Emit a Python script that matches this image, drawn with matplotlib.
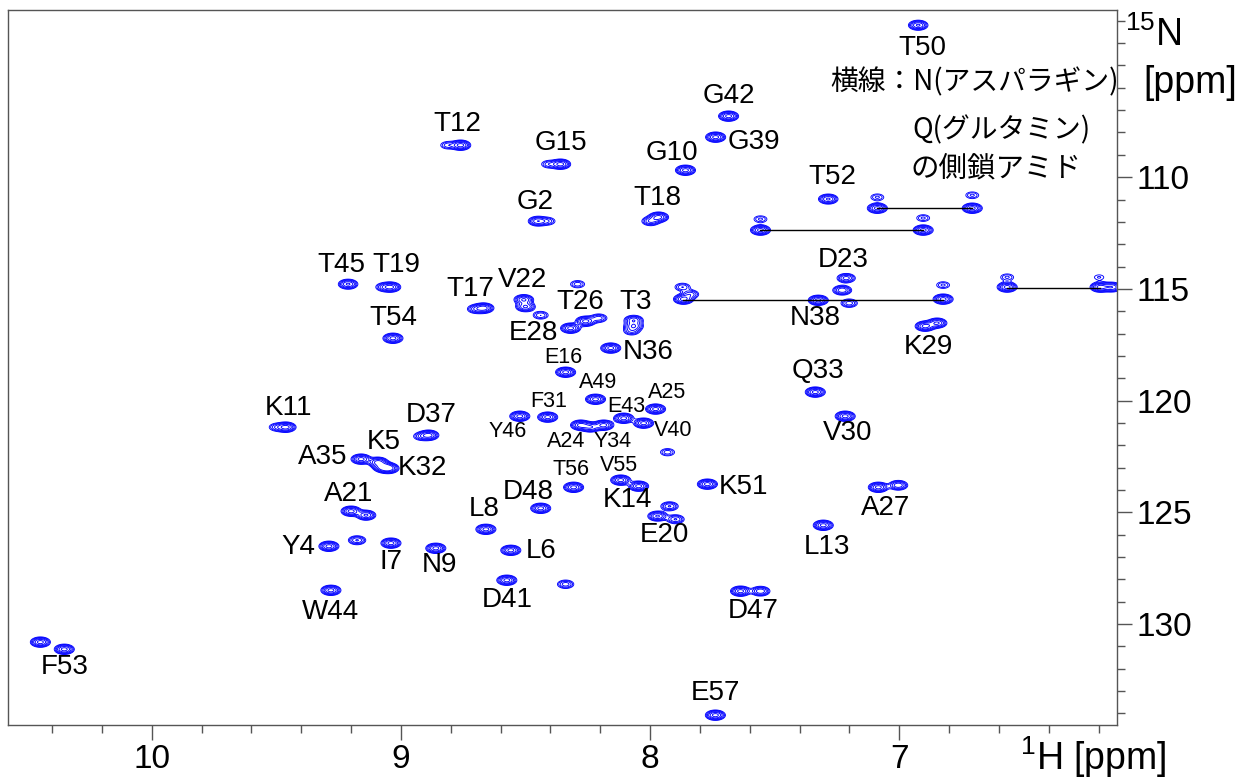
import numpy as np
import matplotlib
matplotlib.use("Agg")
import matplotlib.pyplot as plt
from matplotlib.ticker import MultipleLocator, FixedLocator

plt.rcParams['font.family'] = ['Liberation Sans', 'DejaVu Sans']
plt.rcParams['mathtext.fontset'] = 'custom'
plt.rcParams['mathtext.rm'] = 'Liberation Sans'
plt.rcParams['mathtext.it'] = 'Liberation Sans'

# cross peaks: 1H shift, 15N shift, relative height
peak_h = [8.760, 8.812, 8.359, 8.407, 8.451, 8.410, 7.966, 7.998, 7.858, 7.685,
          7.737, 6.924, 7.285, 9.212, 9.040, 9.070, 9.032, 9.461, 9.500, 9.160,
          9.092, 9.072, 9.048, 8.888, 8.920, 8.667, 8.700, 8.507, 8.500, 8.291,
          8.439, 8.319, 8.259, 8.206, 8.066, 8.066, 8.074, 8.158, 8.339, 8.219,
          7.978, 8.523, 8.411, 8.279, 8.239, 8.186, 8.106, 8.026, 7.930, 8.118,
          8.046, 8.307, 8.439, 7.770, 7.922, 7.213, 7.229, 7.201, 7.325, 6.896,
          6.848, 7.337, 7.217, 7.084, 7.004, 9.200, 9.140, 9.289, 9.176, 9.040,
          9.281, 10.447, 10.351, 8.659, 7.970, 7.898, 8.860, 8.559, 8.575, 8.339,
          7.637, 7.557, 7.738, 7.305,
          # side-chain NH2
          7.557, 7.557, 6.904, 6.904, 7.088, 7.088, 6.707, 6.707, 7.866, 7.870,
          7.838, 6.824, 6.824, 6.567, 6.567, 6.194, 6.198, 6.146]
peak_n = [108.57, 108.57, 109.42, 109.42, 111.97, 111.97, 111.79, 111.97, 109.69, 107.27,
          108.21, 103.20, 110.98, 114.79, 114.92, 114.92, 117.21, 121.19, 121.19, 122.62,
          122.76, 122.98, 123.03, 121.55, 121.60, 115.86, 115.90, 115.48, 115.80, 114.79,
          116.18, 116.76, 116.45, 116.31, 116.40, 116.67, 116.89, 117.65, 118.73, 119.94,
          120.38, 120.70, 120.74, 121.10, 121.19, 121.10, 120.79, 121.01, 122.31, 123.56,
          123.83, 123.88, 124.82, 123.74, 124.73, 114.52, 115.06, 115.64, 115.51, 116.67,
          116.53, 119.62, 120.70, 123.88, 123.79, 124.95, 125.13, 126.52, 126.25, 126.38,
          128.49, 130.81, 131.13, 125.76, 125.17, 125.31, 126.61, 126.70, 128.04, 128.22,
          128.53, 128.53, 134.08, 125.58,
          112.37, 111.88, 112.37, 111.83, 111.39, 110.90, 111.39, 110.81, 115.46, 114.92,
          115.24, 115.46, 114.83, 114.92, 114.48, 114.92, 114.48, 114.92]
peak_amp = [1.0, 0.35, 1.0, 0.35, 0.8, 0.35, 1.0, 0.6, 1.0, 1.0,
            1.0, 0.9, 0.9, 0.9, 0.9, 0.4, 1.0, 1.0, 0.35, 1.0,
            1.0, 1.0, 1.0, 1.0, 0.35, 1.0, 0.5, 0.9, 0.9, 0.35,
            0.4, 1.0, 1.0, 0.5, 0.8, 0.8, 0.4, 1.0, 1.0, 1.0,
            1.0, 1.0, 1.0, 1.0, 0.8, 1.0, 1.0, 1.0, 0.35, 1.0,
            1.0, 1.0, 1.0, 1.0, 0.6, 0.7, 0.8, 0.5, 1.0, 1.0,
            0.9, 1.0, 1.0, 1.0, 0.8, 1.0, 0.9, 1.0, 0.6, 1.0,
            1.0, 1.0, 1.0, 1.0, 0.9, 0.6, 1.0, 1.0, 1.0, 0.5,
            1.0, 0.8, 1.0, 1.0,
            1.0, 0.3, 1.0, 0.3, 1.0, 0.3, 1.0, 0.3, 1.0, 0.4,
            0.5, 1.0, 0.3, 1.0, 0.3, 1.0, 0.2, 0.8]

# NH2 pairs joined by a line: 1H start, 1H end, 15N
pair_h1 = [7.088, 7.557, 7.866, 6.567]
pair_h2 = [6.707, 6.904, 6.824, 6.194]
pair_n = [111.39, 112.37, 115.48, 114.95]

# assignments
label_text = ['T12', 'G15', 'G2', 'T18', 'G10', 'G42', 'G39', 'T50', 'T52', 'T45',
              'T19', 'T54', 'K11', 'A35', 'K5', 'K32', 'D37', 'T17', 'V22', 'T26',
              'E28', 'T3', 'N36', 'E16', 'A49', 'F31', 'Y46', 'A24', 'Y34', 'E43',
              'V40', 'A25', 'V55', 'T56', 'D48', 'K14', 'K51', 'E20', 'L8', 'N9',
              'L6', 'D41', 'D47', 'E57', 'L13', 'A27', 'V30', 'Q33', 'K29', 'N38',
              'D23', 'A21', 'Y4', 'I7', 'W44', 'F53']
label_h = [8.772, 8.359, 8.463, 7.970, 7.914, 7.685, 7.585, 6.908, 7.269, 9.240,
           9.020, 9.032, 9.453, 9.313, 9.068, 8.912, 8.880, 8.720, 8.511, 8.279,
           8.467, 8.058, 8.006, 8.347, 8.210, 8.407, 8.571, 8.335, 8.150, 8.094,
           7.906, 7.930, 8.126, 8.319, 8.487, 8.090, 7.625, 7.942, 8.667, 8.844,
           8.439, 8.575, 7.585, 7.738, 7.289, 7.055, 7.208, 7.325, 6.883, 7.337,
           7.225, 9.208, 9.412, 9.040, 9.281, 10.351]
label_n = [107.63, 108.48, 111.12, 110.94, 108.93, 106.37, 108.43, 104.23, 110.00, 113.94,
           113.94, 116.31, 120.34, 122.53, 121.86, 123.03, 120.65, 115.01, 114.61, 115.59,
           116.98, 115.59, 117.83, 118.06, 119.18, 120.03, 121.37, 121.82, 121.82, 120.25,
           121.33, 119.62, 122.89, 123.07, 124.10, 124.46, 123.88, 126.03, 124.86, 127.37,
           126.74, 128.93, 129.43, 133.10, 126.56, 124.82, 121.46, 118.68, 117.61, 116.31,
           113.72, 124.19, 126.56, 127.23, 129.47, 131.93]
small_labels = {'E16', 'A49', 'F31', 'Y46', 'A24', 'Y34', 'E43', 'V40', 'A25', 'V55', 'T56'}

note_lines = ['横線：N(アスパラギン)', 'Q(グルタミン)', 'の側鎖アミド']

fig = plt.figure(figsize=(12.46, 7.78), dpi=100)
ax = fig.add_axes([0.0064, 0.0681, 0.8901, 0.919])

# build the spectrum as a sum of gaussian peaks
gh = np.linspace(6.05, 10.65, 1840)
gn = np.linspace(102.3, 134.8, 1000)
ph = np.array(peak_h)[:, None]
pn = np.array(peak_n)[:, None]
amp = np.array(peak_amp)[:, None]
GX = np.exp(-0.5 * ((gh[None, :] - ph) / 0.020) ** 2)
GY = np.exp(-0.5 * ((gn[None, :] - pn) / 0.115) ** 2)
Z = GY.T @ (amp * GX)
levels = 0.13 * 1.45 ** np.arange(6)
ax.contour(gh, gn, Z, levels=levels, colors='#0000ff', linewidths=0.65)

for h1, h2, n in zip(pair_h1, pair_h2, pair_n):
    ax.plot([h1, h2], [n, n], color='black', lw=1.0)

for t, h, n in zip(label_text, label_h, label_n):
    fs = 15.5 if t in small_labels else 20
    ax.text(h, n, t, fontsize=fs, ha='center', va='center')

jp = ['Noto Sans CJK JP', 'Liberation Sans']
ax.text(7.277, 105.75, note_lines[0], fontsize=20, family=jp, ha='left', va='center')
ax.text(6.948, 107.90, note_lines[1], fontsize=20, family=jp, ha='left', va='center')
ax.text(6.956, 109.60, note_lines[2], fontsize=20.5, family=jp, ha='left', va='center')

ax.set_xlim(10.577, 6.126)
ax.set_ylim(134.52, 102.52)

ax.xaxis.set_major_locator(FixedLocator([7, 8, 9, 10]))
ax.xaxis.set_minor_locator(MultipleLocator(0.2))
ax.yaxis.set_major_locator(FixedLocator([110, 115, 120, 125, 130]))
ax.yaxis.set_minor_locator(MultipleLocator(1))
ax.yaxis.tick_right()
ax.tick_params(which='major', length=11, width=1, color='#555555', labelsize=24, pad=3)
ax.tick_params(which='minor', length=6, width=1, color='#555555')
ax.tick_params(axis='y', which='both', left=False, right=True)
for s in ax.spines.values():
    s.set_color('#555555')
    s.set_linewidth(1.0)

fig.text(1125 / 1246, 1 - 35 / 778, r'$^{15}$N', fontsize=27, ha='left', va='center')
fig.text(1190 / 1246, 1 - 83 / 778, '[ppm]', fontsize=27, ha='center', va='center')
fig.text(1093 / 1246, 1 - 757 / 778, r'$^{1}$H [ppm]', fontsize=27, ha='center', va='center')

fig.savefig('out.png', dpi=100)
